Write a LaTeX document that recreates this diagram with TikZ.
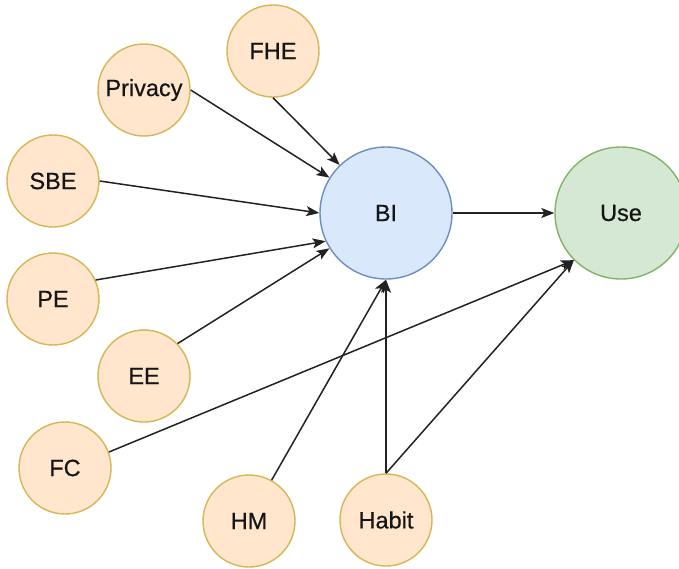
\documentclass[tikz,border=0pt]{standalone}
\usepackage{fontspec}
\setmainfont{Liberation Sans}
\newfontfamily\lblfont[FakeBold=0.5]{Liberation Sans}
\usetikzlibrary{arrows.meta}
\definecolor{ofill}{HTML}{FFE6CC}
\definecolor{odraw}{HTML}{D6B656}
\definecolor{bfill}{HTML}{DAE8FC}
\definecolor{bdraw}{HTML}{6C8EBF}
\definecolor{gfill}{HTML}{D5E8D4}
\definecolor{gdraw}{HTML}{82B366}
\definecolor{edgecol}{HTML}{222222}
\definecolor{txtcol}{HTML}{151515}
\tikzset{
  lbl/.style={font=\lblfont\fontsize{23.5}{27}\selectfont, text=txtcol},
  small/.style={circle, draw=odraw, fill=ofill, line width=1.4pt, minimum size=92pt, inner sep=0pt, lbl},
  big/.style={circle, line width=1.4pt, minimum size=132pt, inner sep=0pt, lbl},
  conn/.style={draw=edgecol, line width=1.5pt, -{Stealth[length=13pt,width=10pt,inset=3pt]}}
}
\begin{document}
\begin{tikzpicture}[x=1pt,y=-1pt]
\useasboundingbox (0,0) rectangle (679,568);
\node[small] (fhe) at (273,51) {FHE};
\node[small] (priv) at (144,90) {Privacy};
\node[small] (sbe) at (53,181) {SBE};
\node[small] (pe) at (53,299) {PE};
\node[small] (ee) at (144,376) {EE};
\node[small] (fc) at (65,468) {FC};
\node[small] (hm) at (249,521) {HM};
\node[small] (habit) at (386,520) {Habit};
\node[big, draw=bdraw, fill=bfill] (bi) at (386,213) {BI};
\node[big, draw=gdraw, fill=gfill] (use) at (621,213) {Use};

\draw[conn] (fhe.south) -- (bi.134);
\draw[conn] (priv.east) -- (bi.148);
\draw[conn] (sbe.east) -- (bi.west);
\draw[conn] (pe.24) -- (bi.205);
\draw[conn] (ee.44) -- (bi.212);
\draw[conn] (fc.20) -- (use.225);
\draw[conn] (hm.61) -- (bi.south);
\draw[conn] (habit.north) -- (bi.south);
\draw[conn] (habit.north) -- (use.225);
\draw[conn] (bi.east) -- (use.west);
\end{tikzpicture}
\end{document}
